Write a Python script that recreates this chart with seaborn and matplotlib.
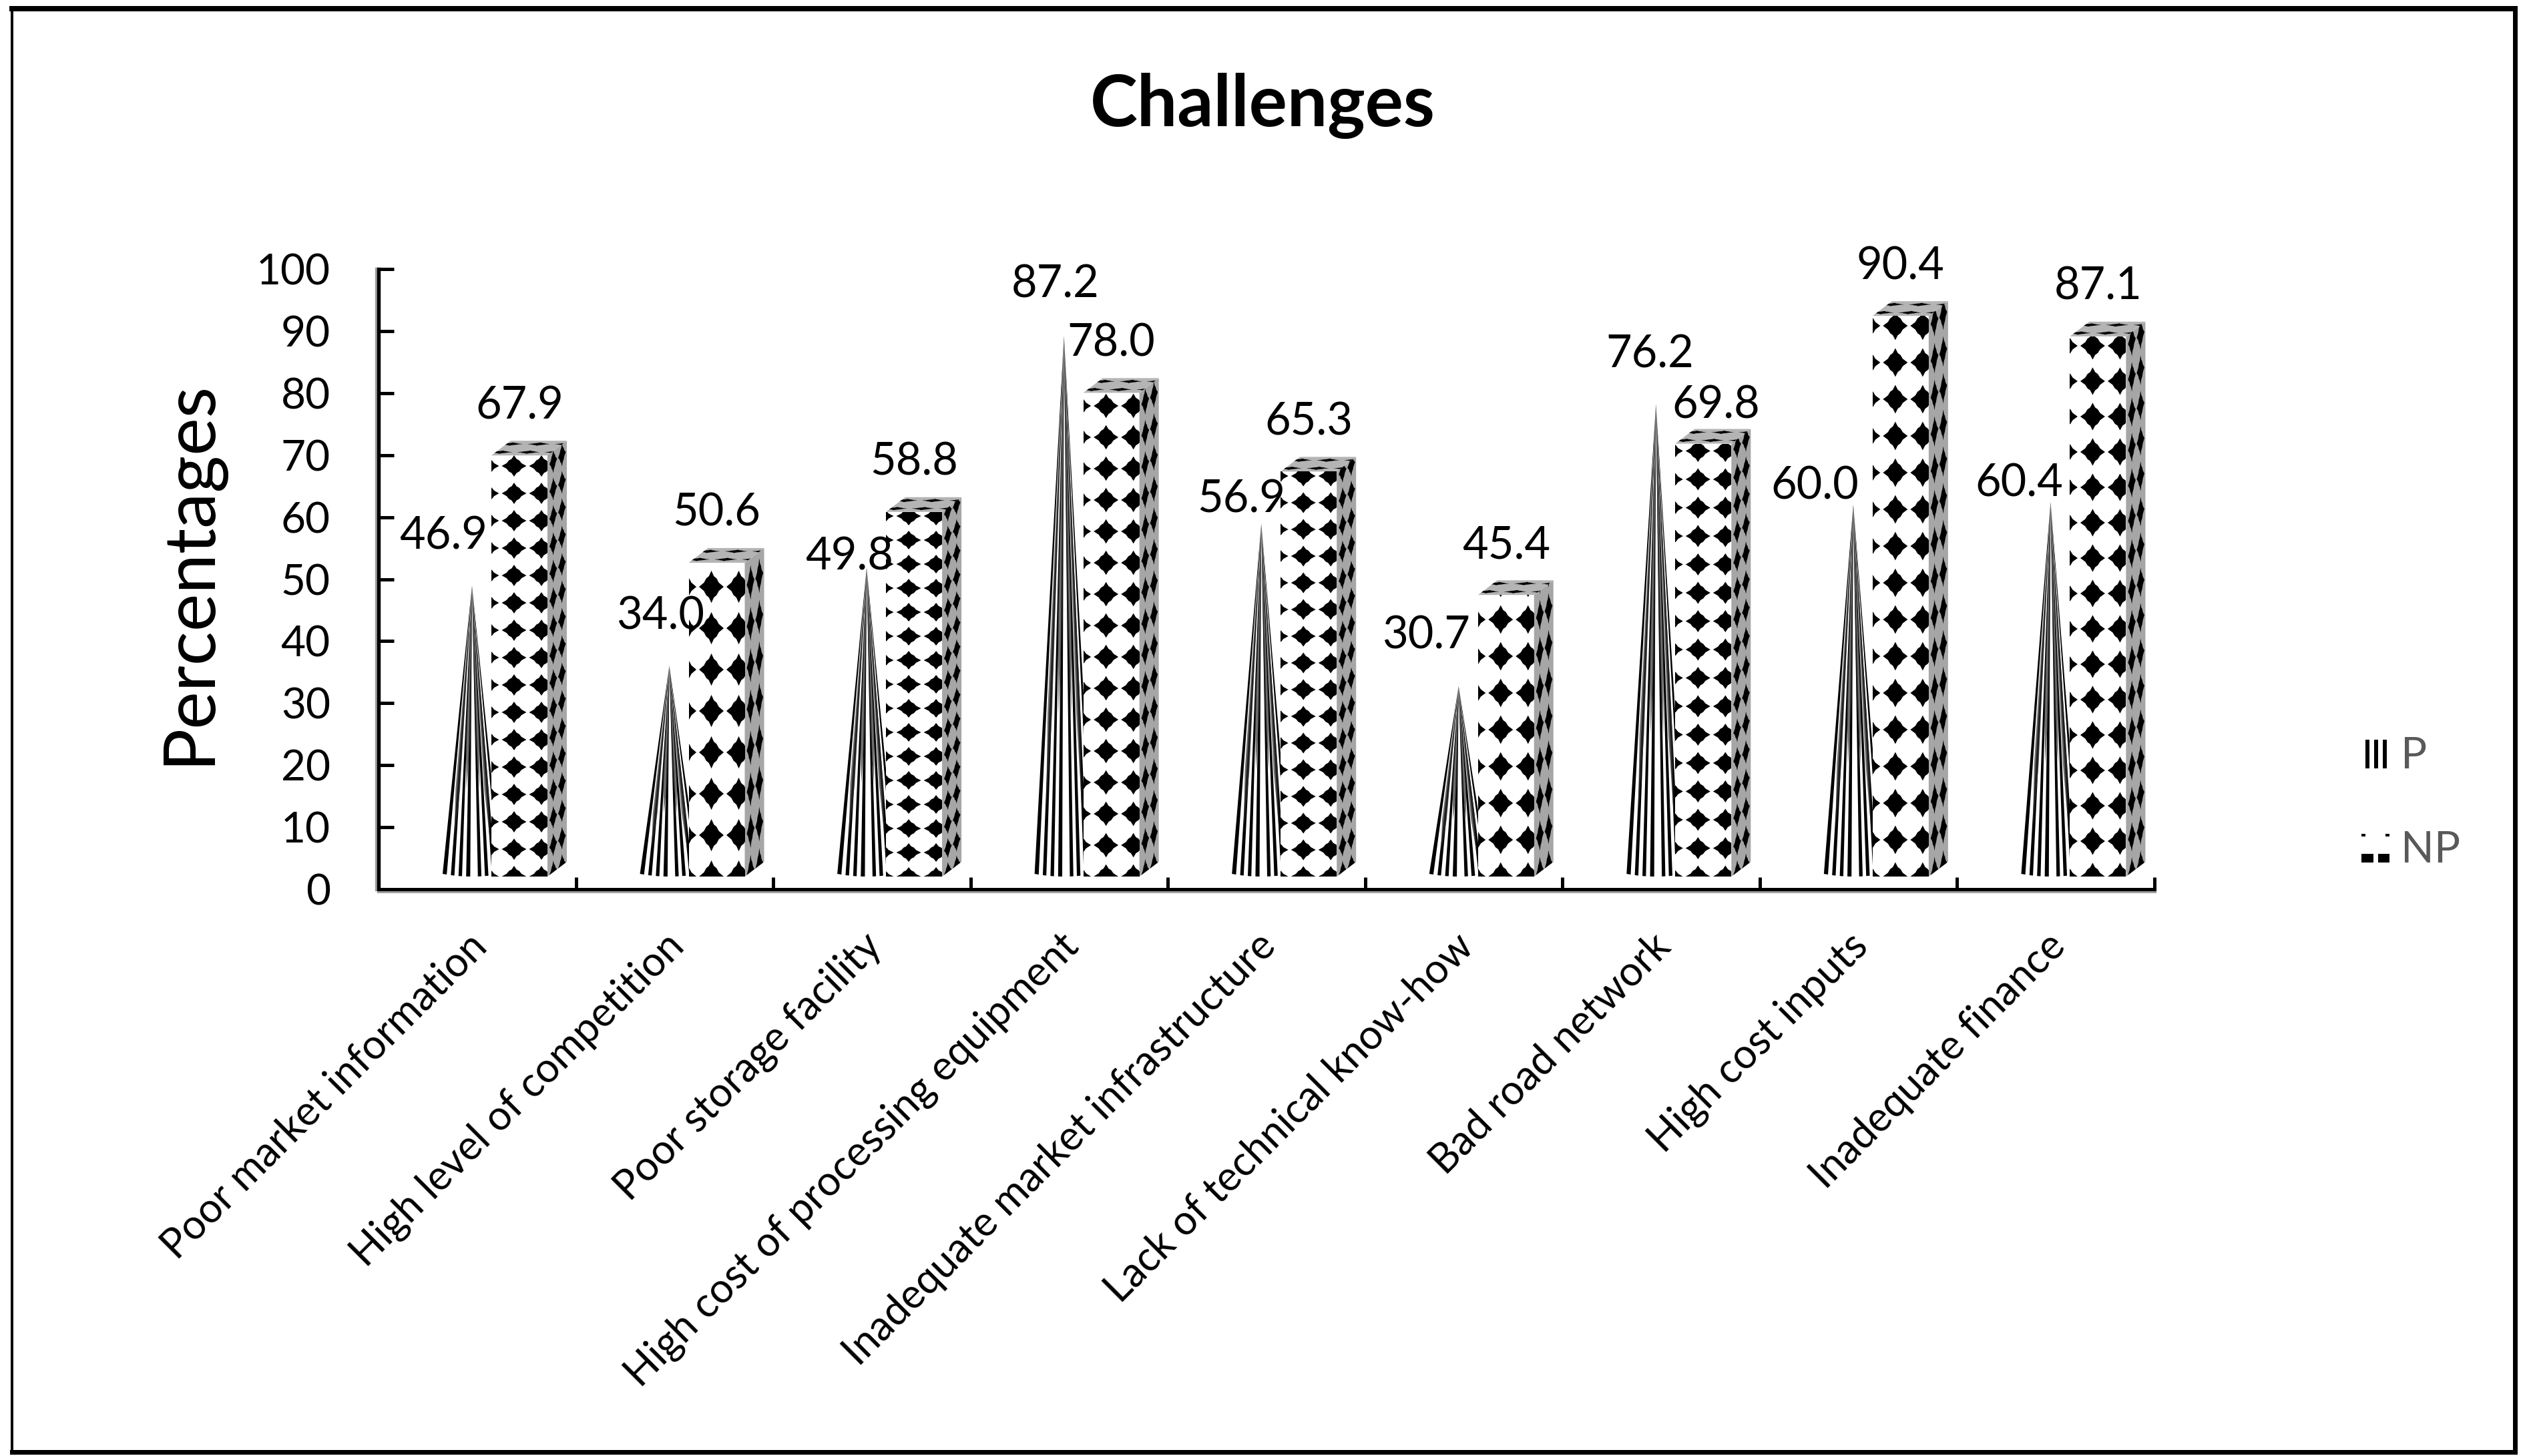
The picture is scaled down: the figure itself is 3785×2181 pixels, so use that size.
import numpy as np
import pandas as pd
import matplotlib
matplotlib.use('Agg')
import matplotlib.pyplot as plt
import matplotlib.patheffects as pe
from matplotlib.collections import PolyCollection
from matplotlib.legend_handler import HandlerBase
from matplotlib.lines import Line2D
from matplotlib.patches import Patch, Polygon, Rectangle
from matplotlib.transforms import ScaledTranslation
import seaborn as sns

# Datos
challenges = ['Poor market information', 'High level of competition', 'Poor storage facility',
              'High cost of processing equipment', 'Inadequate market infrastructure',
              'Lack of technical know-how', 'Bad road network', 'High cost inputs', 'Inadequate finance']
p_values = [46.9, 34.0, 49.8, 87.2, 56.9, 30.7, 76.2, 60.0, 60.4]
np_values = [67.9, 50.6, 58.8, 78.0, 65.3, 45.4, 69.8, 90.4, 87.1]
y_ticks = list(range(0, 101, 10))

# Ajustes a mano de estilo (pixeles)
p_label_dx = [-43, -13, -26, -13, -30, -49, -9, -58, -47]
p_label_dy = [74, 74, 16, 76, 36, 75, 74, 27, 27]
np_label_dx = [0, 0, 0, 0, 0, 0, 19, 0, 0]
np_label_dy = [74, 74, 74, 74, 74, 74, 57, 74, 74]
row_px = [41, 62, 36, 47, 40, 55, 42.5, 55, 53]

W, H = 3785, 2181
AX_L, AX_R, AX_T, AX_B = 567, 3227, 403, 1332
FONT = 'Lato'

sns.set_theme(style='white')
plt.rcParams['font.family'] = [FONT, 'DejaVu Sans']

fig = plt.figure(figsize=(W / 100, H / 100), dpi=100, facecolor='white')
ax = fig.add_axes([AX_L / W, 1 - AX_B / H, (AX_R - AX_L) / W, (AX_B - AX_T) / H])
ax.set_facecolor('none')

PX = 9 / (AX_R - AX_L)      # datos x por pixel
PY = 100 / (AX_B - AX_T)    # datos y por pixel
BASE = 19 * PY              # el suelo 3D queda un poco sobre el eje
DEPTH_X, DEPTH_Y = 29 * PX, 22 * PY

positions = np.arange(len(challenges))
df_p = pd.DataFrame({'pos': positions + (707 - 714.8) * PX, 'value': p_values})
df_np = pd.DataFrame({'pos': positions + (778 - 714.8) * PX, 'value': np_values})

# P: la barra solo da la geometria, el cono se dibuja encima
sns.barplot(data=df_p, x='pos', y='value', native_scale=True, width=88 * PX, bottom=BASE,
            color='white', saturation=1, linewidth=0, ax=ax, zorder=2, errorbar=None)
p_bars = list(ax.containers[0])
sns.barplot(data=df_np, x='pos', y='value', native_scale=True, width=84 * PX, bottom=BASE,
            color='white', saturation=1, linewidth=0, ax=ax, zorder=4, errorbar=None)
np_bars = list(ax.containers[1])

DIAMOND = np.array([(1, 0), (.6, .26), (.42, .52), (.2, .66), (0, 1), (-.2, .66), (-.42, .52), (-.6, .26),
                    (-1, 0), (-.6, -.26), (-.42, -.52), (-.2, -.66), (0, -1), (.2, -.66), (.42, -.52), (.6, -.26)])

# franjas del cono en la base, fraccion del radio
CONE_STRIPES = [(-1, -.86), (-.72, -.6), (-.46, -.34), (-.2, -.06), (.2, .32), (.44, .56), (.68, .8), (.9, 1)]
# sombras oscuras de la parte alta: (u0, u1, fraccion de altura hasta donde bajan)
CONE_SHADES = [(-.42, -.1, .3), (.22, .5, .3), (-.8, -.58, .12), (.6, .8, .12)]


def pattern(origin, du, dv, cols, rows, half_u, half_v, clip, zorder):
    # rombos negros sobre una cara, du y dv son los pasos de la rejilla
    polys = []
    for c in cols:
        for r in rows:
            pts = origin + np.outer(c + DIAMOND[:, 0] * half_u, du) + np.outer(r + DIAMOND[:, 1] * half_v, dv)
            polys.append(pts)
    coll = PolyCollection(polys, facecolors='black', edgecolors='none', zorder=zorder)
    ax.add_collection(coll, autolim=False)
    coll.set_clip_path(clip)


def draw_box(bar, row):
    x0, w, y0 = bar.get_x(), bar.get_width(), bar.get_y()
    top = y0 + bar.get_height()
    nrows = int(bar.get_height() / (row * PY)) + 2
    rows = np.arange(nrows)
    tile_x = 41 * PX
    # frente
    pattern(np.array([x0 - 7 * PX, y0]), np.array([tile_x, 0]), np.array([0, row * PY]),
            [0, 1, 2], rows, 18.5 / 41, .39, bar, 5)
    # lateral
    side = Polygon([(x0 + w, y0), (x0 + w + DEPTH_X, y0 + DEPTH_Y), (x0 + w + DEPTH_X, top + DEPTH_Y), (x0 + w, top)],
                   facecolor='#a6a6a6', edgecolor='none', zorder=4)
    ax.add_patch(side)
    pattern(np.array([x0 + w, y0]), np.array([DEPTH_X, DEPTH_Y]), np.array([0, row * PY]),
            [.3, .75], rows, .2, .42, side, 5)
    # tapa
    lid = Polygon([(x0, top), (x0 + w, top), (x0 + w + DEPTH_X, top + DEPTH_Y), (x0 + DEPTH_X, top + DEPTH_Y)],
                  facecolor='#b4b4b4', edgecolor='none', zorder=4)
    ax.add_patch(lid)
    pattern(np.array([x0, top]), np.array([tile_x, 0]), np.array([14 * PX, DEPTH_Y * .5]),
            [.2, 1.2, 2.2], [.45, 1.55], .42, .22, lid, 5)


def draw_cone(bar):
    x0, w, y0 = bar.get_x(), bar.get_width(), bar.get_y()
    apex = y0 + bar.get_height()
    cx, hw = x0 + w / 2, w / 2
    droop = 4 * PY
    polys = []
    for a, b in CONE_STRIPES:
        us = np.linspace(a, b, 4)
        polys.append([(cx + u * hw, y0 + droop * u ** 2) for u in us] + [(cx, apex)])
    ax.add_collection(PolyCollection(polys, facecolors='black', edgecolors='none', zorder=3), autolim=False)
    shades = []
    for a, b, t in CONE_SHADES:
        # cuña oscura que termina en punta hacia abajo, sin corte horizontal
        s = 1 - t - .18
        y_s = y0 + (apex - y0) * (t + .18)
        y_end = y0 + (apex - y0) * t
        mid = (a + b) / 2 * (1 - t)
        shades.append([(cx, apex), (cx + a * hw * s, y_s), (cx + mid * hw, y_end), (cx + b * hw * s, y_s)])
    ax.add_collection(PolyCollection(shades, facecolors='#303030', edgecolors='none', alpha=.7, zorder=3), autolim=False)


for bar in p_bars:
    bar.set_visible(False)
    draw_cone(bar)
for bar, row in zip(np_bars, row_px):
    draw_box(bar, row)

# Etiquetas de valores
for bar, v, dx, dy in zip(p_bars, p_values, p_label_dx, p_label_dy):
    ax.annotate(f'{v:.1f}', (bar.get_x() + bar.get_width() / 2, bar.get_y() + bar.get_height()),
                xytext=(dx * .72, dy * .72), textcoords='offset points', ha='center', va='center',
                fontsize=48, color='black', zorder=6)
for bar, v, dx, dy in zip(np_bars, np_values, np_label_dx, np_label_dy):
    ax.annotate(f'{v:.1f}', (bar.get_x() + bar.get_width() / 2, bar.get_y() + bar.get_height()),
                xytext=(dx * .72, dy * .72), textcoords='offset points', ha='center', va='center',
                fontsize=48, color='black', zorder=6)

# Ejes
ax.set_xlim(-.5, len(challenges) - .5)
ax.set_ylim(0, 100)
ax.set_yticks(y_ticks)
ax.set_xticks(np.arange(len(challenges) + 1) - .5)
ax.set_xticklabels([])
ax.set_xticks(positions, labels=challenges, minor=True)
ax.tick_params(axis='y', direction='in', length=16.5, width=3.6, color='black', pad=52, labelsize=46,
               labelcolor='black', left=True)
ax.tick_params(axis='x', which='major', direction='in', length=13, width=3.6, color='black', bottom=True)
ax.tick_params(axis='x', which='minor', length=0, pad=55, labelsize=44, labelcolor='black', bottom=False)
shift = ScaledTranslation(5 / 100, 0, fig.dpi_scale_trans)
for lab in ax.get_xticklabels(minor=True):
    lab.set_rotation(45)
    lab.set_ha('right')
    lab.set_va('center')
    lab.set_rotation_mode('anchor')
    lab.set_transform(lab.get_transform() + shift)
ax.set(xlabel='')
ax.set_ylabel('Percentages', fontsize=77, color='black', va='center')
ax.yaxis.set_label_coords((285 - AX_L) / (AX_R - AX_L), (AX_B - 858) / (AX_B - AX_T))
sns.despine(ax=ax)
ax.spines['left'].set_linewidth(3.9)
ax.spines['bottom'].set_linewidth(3.6)
ax.spines['left'].set_color('black')
ax.spines['bottom'].set_color('black')
ax.spines['left'].set_path_effects([pe.SimpleLineShadow(offset=(-2, 0), shadow_color='#a0a0a0', alpha=1), pe.Normal()])
ax.spines['bottom'].set_path_effects([pe.SimpleLineShadow(offset=(0, -2), shadow_color='#a0a0a0', alpha=1), pe.Normal()])

fig.text(1891 / W, 1 - 189 / H, 'Challenges', fontsize=77, fontweight='bold', ha='center', va='baseline', color='black')


# Leyenda
class HandlerP(HandlerBase):
    def create_artists(self, legend, orig, xd, yd, width, height, fontsize, trans):
        return [Rectangle((xd_ * 72 / 100, 0), 4.3, 31, facecolor='black', edgecolor='none', transform=trans)
                for xd_ in (6, 19, 32)]


class HandlerNP(HandlerBase):
    def create_artists(self, legend, orig, xd, yd, width, height, fontsize, trans):
        boxes = [(0, 28, 4, 3), (26, 28, 4, 3), (0, 0, 13, 9), (18, 0, 12, 9)]
        return [Rectangle((x, y), w, h, facecolor='black', edgecolor='none', transform=trans) for x, y, w, h in boxes]


leg_handles = [Patch(label='P'), Patch(label='NP')]
ax.legend(handles=leg_handles, loc='upper left', bbox_to_anchor=(3537 / W, 1 - 1103 / H),
          bbox_transform=fig.transFigure, frameon=False, fontsize=47, labelcolor='#595959',
          handlelength=.65, handleheight=.66, handletextpad=.25, labelspacing=1.25, borderpad=0, borderaxespad=0,
          handler_map={leg_handles[0]: HandlerP(), leg_handles[1]: HandlerNP()})

# Marco exterior
for xs, ys, lw in [((18, 3767), (13, 13), 8), ((18, 3767), (2175, 2175), 7),
                   ((18, 18), (13, 2175), 4), ((3767, 3767), (13, 2175), 7)]:
    fig.add_artist(Line2D([x / W for x in xs], [1 - y / H for y in ys], color='black', lw=lw * .72,
                          solid_capstyle='projecting', transform=fig.transFigure))

fig.savefig('out.png', dpi=100, facecolor='white')
